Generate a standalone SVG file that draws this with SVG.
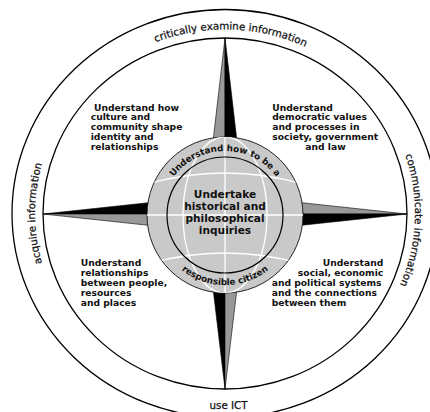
<svg xmlns="http://www.w3.org/2000/svg" width="430" height="412" viewBox="0 0 430 412">
<style>
.ring{fill:none;stroke:#000;stroke-width:1.3}
.rt{font-family:"DejaVu Sans",sans-serif;font-size:10.3px;fill:#111;stroke:#111;stroke-width:0.25}
.q{font-family:"DejaVu Sans",sans-serif;font-weight:bold;font-size:9.2px;fill:#111}
.g{font-family:"DejaVu Sans",sans-serif;font-weight:bold;font-size:10.6px;fill:#111;text-anchor:middle}
.gr{font-family:"DejaVu Sans",sans-serif;font-weight:bold;font-size:8.8px;fill:#111}
.blk{fill:#000;stroke:#000;stroke-width:0.6;stroke-linejoin:round}
.gry{fill:#999;stroke:#000;stroke-width:0.6;stroke-linejoin:round}
.grid{fill:none;stroke:#fff;stroke-width:1.3}
</style>
<defs>
<path id="outerPath" d="M225,397.5 A190,184 0 1 1 225,29.5 A190,184 0 1 1 225,397.5"/>
<path id="globeTop" d="M161,215 A64,64 0 0 1 289,215"/>
<path id="globeBot" d="M155,215 A70,70 0 0 0 295,215"/>
<clipPath id="gclip"><circle cx="225" cy="215" r="78"/></clipPath>
</defs>
<rect width="430" height="412" fill="#fff"/>
<g id="rings">
<ellipse class="ring" cx="225" cy="213.5" rx="213" ry="204"/>
<ellipse class="ring" cx="225" cy="213.5" rx="182" ry="175.5"/>
</g>
<g id="ring-labels">
<text class="rt" text-anchor="middle"><textPath href="#outerPath" startOffset="25%">acquire information</textPath></text>
<text class="rt" text-anchor="middle"><textPath href="#outerPath" startOffset="50.5%">critically examine information</textPath></text>
<text class="rt" text-anchor="middle"><textPath href="#outerPath" startOffset="75.6%">communicate information</textPath></text>
<text class="rt" x="228.5" y="409" text-anchor="middle">use ICT</text>
</g>
<g id="compass">
<polygon class="gry" points="225,38 212,150 225,150"/>
<polygon class="blk" points="225,38 238,150 225,150"/>
<polygon class="gry" points="407,214 295,202 295,214"/>
<polygon class="blk" points="407,214 295,226 295,214"/>
<polygon class="blk" points="225,389 212,280 225,280"/>
<polygon class="gry" points="225,389 238,280 225,280"/>
<polygon class="blk" points="43,214 155,202 155,214"/>
<polygon class="gry" points="43,214 155,226 155,214"/>
</g>
<g id="globe">
<circle cx="225" cy="215" r="78" fill="#c9c9c9" stroke="#222" stroke-width="1"/>
<g clip-path="url(#gclip)">
<line class="grid" x1="140" y1="215" x2="310" y2="215"/>
<line class="grid" x1="225" y1="130" x2="225" y2="300"/>
<ellipse class="grid" cx="225" cy="215" rx="42" ry="78"/>
<path class="grid" d="M140,186 Q225,160 310,186"/>
<path class="grid" d="M140,266 Q225,240 310,266"/>
</g>
<circle cx="225" cy="215" r="58" fill="none" stroke="#000" stroke-width="1.2"/>
<text class="g" x="225" y="198">Undertake</text>
<text class="g" x="225" y="210">historical and</text>
<text class="g" x="225" y="222">philosophical</text>
<text class="g" x="225" y="234">inquiries</text>
<text class="gr" text-anchor="middle"><textPath href="#globeTop" startOffset="50%">Understand how to be a</textPath></text>
<text class="gr" text-anchor="middle"><textPath href="#globeBot" startOffset="50%">responsible citizen</textPath></text>
</g>
<g id="q-culture">
<text class="q" x="94" y="110.5">Understand how</text>
<text class="q" x="90.7" y="120.3">culture and</text>
<text class="q" x="90.7" y="130">community shape</text>
<text class="q" x="90.7" y="139.7">identity and</text>
<text class="q" x="90.7" y="149.5">relationships</text>
</g>
<g id="q-democratic">
<text class="q" x="272.3" y="110.5">Understand</text>
<text class="q" x="272.3" y="120.3">democratic values</text>
<text class="q" x="272.3" y="130">and processes in</text>
<text class="q" x="272.3" y="139.7">society, government</text>
<text class="q" x="325.5" y="149.5" text-anchor="middle">and law</text>
</g>
<g id="q-places">
<text class="q" x="80.7" y="265.5">Understand</text>
<text class="q" x="80.7" y="275.5">relationships</text>
<text class="q" x="80.7" y="285.5">between people,</text>
<text class="q" x="80.7" y="295.5">resources</text>
<text class="q" x="80.7" y="305.5">and places</text>
</g>
<g id="q-systems">
<text class="q" x="383.3" y="265.5" text-anchor="end">Understand</text>
<text class="q" x="383.3" y="275.5" text-anchor="end">social, economic</text>
<text class="q" x="271.7" y="285.5">and political systems</text>
<text class="q" x="271.7" y="295.5">and the connections</text>
<text class="q" x="271.7" y="305.5">between them</text>
</g>
</svg>
